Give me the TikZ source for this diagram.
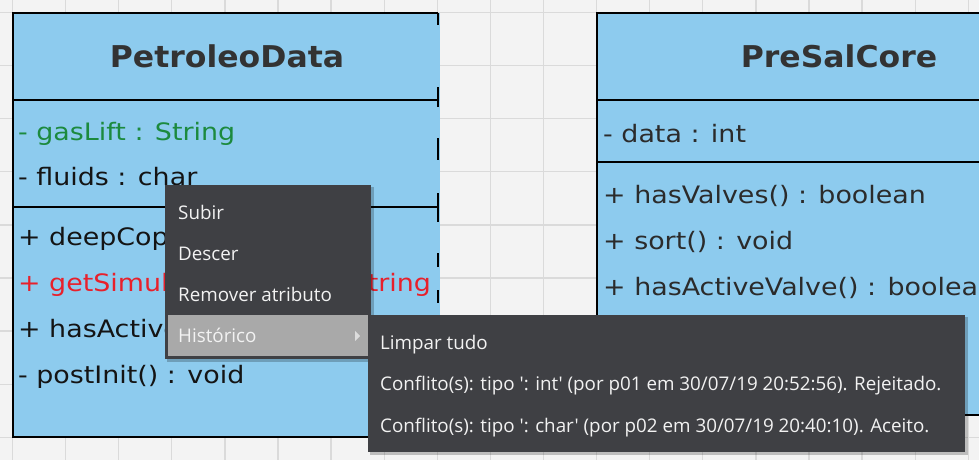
\documentclass[tikz,border=0pt]{standalone}
\usepackage{fontspec}
\newfontfamily\umlfont[FakeStretch=1.12]{DejaVu Sans}
\newfontfamily\umlheadfont[FakeStretch=1.05]{DejaVu Sans}
\newfontfamily\menufont{Open Sans}

\definecolor{bggray}{HTML}{F3F3F3}
\definecolor{gridgray}{HTML}{DADADA}
\definecolor{umlblue}{HTML}{8DCBEE}
\definecolor{umlink}{HTML}{141414}
\definecolor{rightink}{HTML}{2B2B2B}
\definecolor{headink}{HTML}{333333}
\definecolor{attrgreen}{HTML}{1C8A3E}
\definecolor{methred}{HTML}{E8202B}
\definecolor{menubg}{HTML}{3F4044}
\definecolor{menuhl}{HTML}{A9A9A9}
\definecolor{menuink}{HTML}{F2F2F2}
\definecolor{arrowgray}{HTML}{DDDDDD}

\begin{document}
\begin{tikzpicture}[x=1pt,y=-1pt,
  umltext/.style={anchor=base west, inner sep=0pt, font=\umlfont\fontsize{24}{28}\selectfont, text=umlink},
  umlhead/.style={anchor=base, inner sep=0pt, font=\umlheadfont\bfseries\fontsize{30}{36}\selectfont, text=headink},
  menutext/.style={anchor=base west, inner sep=0pt, font=\menufont\fontsize{18.8}{22}\selectfont, text=menuink},
  boxrule/.style={line width=2pt, draw=black},
  gridline/.style={draw=gridgray, line width=1.3pt},
  menushadow/.style={fill=black, opacity=0.22},
]
\useasboundingbox (0,0) rectangle (979,460);

% canvas with grid
\fill[bggray] (0,0) rectangle (979,460);
\foreach \k in {0,...,18} {\draw[gridline] ({12.5+53.1*\k},0) -- ({12.5+53.1*\k},460);}
\foreach \k in {0,...,8} {\draw[gridline] (0,{12.5+53.1*\k}) -- (979,{12.5+53.1*\k});}

% class PetroleoData
\fill[umlblue] (13,13) rectangle (440,437);
\draw[boxrule] (438,13) -- (13,13) -- (13,437) -- (438,437);
\draw[boxrule] (13,100) -- (438,100);
\draw[boxrule] (13,207) -- (438,207);
\foreach \a/\b in {13/25,87/107,138/160,193/222,253/267,290/303}
  {\draw[boxrule] (438,\a) -- (438,\b);}
\node[umlhead] (pdname) at (227,67) {PetroleoData};
\node[umltext, text=attrgreen] (pdgas) at (18,140) {- gasLift : String};
\node[umltext] (pdfluids) at (18,185) {- fluids : char};
\node[umltext] (pdcopy) at (18,245) {+ deepCopy() : void};
\node[umltext, text=methred] (pdsim) at (18,291) {+ getSimulationData() : String};
\node[umltext] (pdactive) at (18,337) {+ hasActive() : boolean};
\node[umltext] (pdinit) at (18,383) {- postInit() : void};

% class PreSalCore
\fill[umlblue] (597,13) rectangle (990,415);
\draw[boxrule] (990,13) -- (597,13) -- (597,415) -- (990,415);
\draw[boxrule] (597,100) -- (990,100);
\draw[boxrule] (597,162) -- (990,162);
\node[umlhead] (pscname) at (839,67) {PreSalCore};
\node[umltext, text=rightink] (pscdata) at (603,142) {- data : int};
\node[umltext, text=rightink] (pscvalves) at (603,203) {+ hasValves() : boolean};
\node[umltext, text=rightink] (pscsort) at (603,249) {+ sort() : void};
\node[umltext, text=rightink] (pscactive) at (603,295) {+ hasActiveValve() : boolean};

% context menu
\fill[menushadow] (167,187) rectangle (374,362);
\fill[menubg] (165,185) rectangle (371,359);
\fill[menuhl] (168,315) rectangle (368,356);
\fill[arrowgray] (355,331) -- (360,336) -- (355,341) -- cycle;
\node[menutext] (msubir) at (178,219) {Subir};
\node[menutext] (mdescer) at (178,260) {Descer};
\node[menutext] (mremover) at (178,301) {Remover atributo};
\node[menutext] (mhist) at (178,342) {Histórico};

% history submenu
\fill[menushadow] (370,317) rectangle (968,455);
\fill[menubg] (368,315) rectangle (965,452);
\node[menutext] (hclear) at (380,349) {Limpar tudo};
\node[menutext] (hconf1) at (380,390) {Conflito(s): tipo ': int' (por p01 em 30/07/19 20:52:56). Rejeitado.};
\node[menutext] (hconf2) at (380,432) {Conflito(s): tipo ': char' (por p02 em 30/07/19 20:40:10). Aceito.};
\end{tikzpicture}
\end{document}
